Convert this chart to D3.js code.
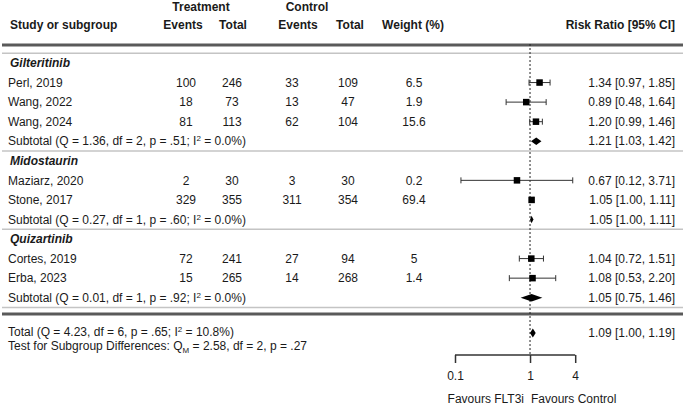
<!DOCTYPE html>
<html>
<head>
<meta charset="utf-8">
<script src="https://cdn.jsdelivr.net/npm/d3@7"></script>
<style>
  body { margin: 0; background: #fff; }
  svg { display: block; }
  text { font-family: "Liberation Sans", Arial, sans-serif; font-size: 12px; fill: #1a1a1a; }
</style>
</head>
<body>
<svg id="chart" width="685" height="405"></svg>
<script>
// ---------- DATA ----------
const groupNames = ["Gilteritinib", "Midostaurin", "Quizartinib"];
const studyLabels = ["Perl, 2019", "Wang, 2022", "Wang, 2024", "Maziarz, 2020", "Stone, 2017", "Cortes, 2019", "Erba, 2023"];
const studyGroup = [0, 0, 0, 1, 1, 2, 2];
const treatEvents = [100, 18, 81, 2, 329, 72, 15];
const treatTotal = [246, 73, 113, 30, 355, 241, 265];
const ctrlEvents = [33, 13, 62, 3, 311, 27, 14];
const ctrlTotal = [109, 47, 104, 30, 354, 94, 268];
const weights = ["6.5", "1.9", "15.6", "0.2", "69.4", "5", "1.4"];
const studyRR = [1.34, 0.89, 1.20, 0.67, 1.05, 1.04, 1.08];
const studyLo = [0.97, 0.48, 0.99, 0.12, 1.00, 0.72, 0.53];
const studyHi = [1.85, 1.64, 1.46, 3.71, 1.11, 1.51, 2.20];

const subQ = ["1.36", "0.27", "0.01"];
const subDf = ["2", "1", "1"];
const subP = [".51", ".60", ".92"];
const subI2 = ["0.0%", "0.0%", "0.0%"];
const subRR = [1.21, 1.05, 1.05];
const subLo = [1.03, 1.00, 0.75];
const subHi = [1.42, 1.11, 1.46];

const totalStats = ["4.23", "6", ".65", "10.8%"];
const totalRR = [1.09, 1.00, 1.19];
const subgroupTest = ["2.58", "2", ".27"];

const axisTicks = [0.1, 1, 4];
const axisTickLabels = ["0.1", "1", "4"];
const favourLabels = ["Favours FLT3i", "Favours Control"];

// ---------- LAYOUT ----------
const svg = d3.select("#chart");
const fmt = d3.format(".2f");
const ciText = (r, l, h) => `${fmt(r)} [${fmt(l)}, ${fmt(h)}]`;

const rows = [];
groupNames.forEach((gname, gi) => {
  rows.push({ type: "group", gi });
  studyLabels.forEach((s, si) => { if (studyGroup[si] === gi) rows.push({ type: "study", si }); });
  rows.push({ type: "sub", gi });
});
const yRow = d3.scaleLinear().domain([0, rows.length - 1]).range([63, 297.7]);
const rowStep = yRow(1) - yRow(0);

const x = d3.scaleLog().domain([0.1, 4]).range([455, 575.2]);

const col = { te: 186, tt: 232, ce: 292, ct: 348, w: 414, ci: 675, label: 8 };

// ---------- HEADER ----------
const hdr = svg.append("g").style("font-weight", "bold");
hdr.append("text").attr("x", 201).attr("y", 7).attr("dy", "0.35em").attr("text-anchor", "middle").text("Treatment");
hdr.append("text").attr("x", 307).attr("y", 7).attr("dy", "0.35em").attr("text-anchor", "middle").text("Control");
hdr.append("text").attr("x", 10).attr("y", 25).attr("dy", "0.35em").text("Study or subgroup");
[["Events", 183], ["Total", 233], ["Events", 298], ["Total", 350], ["Weight (%)", 413]].forEach(([t, cx]) => {
  hdr.append("text").attr("x", cx).attr("y", 25).attr("dy", "0.35em").attr("text-anchor", "middle").text(t);
});
hdr.append("text").attr("x", col.ci).attr("y", 25).attr("dy", "0.35em").attr("text-anchor", "end").text("Risk Ratio [95% CI]");

[45, 314].forEach(yy => {
  svg.append("line").attr("x1", 2).attr("x2", 683).attr("y1", yy).attr("y2", yy)
    .attr("stroke", "#5a5a5a").attr("stroke-width", 3);
});

rows.forEach((r, i) => {
  if (r.type === "group") {
    const yy = yRow(i) - rowStep / 2;
    svg.append("line").attr("x1", 2).attr("x2", 683).attr("y1", yy).attr("y2", yy).attr("stroke", "#c4c4c4").attr("stroke-width", 1.5);
  }
});
{
  const yy = yRow(rows.length - 1) + rowStep / 2;
  svg.append("line").attr("x1", 2).attr("x2", 683).attr("y1", yy).attr("y2", yy).attr("stroke", "#c4c4c4").attr("stroke-width", 1.5);
}

const axisY = 355;
svg.append("line").attr("x1", x(1)).attr("x2", x(1)).attr("y1", 44).attr("y2", axisY)
  .attr("stroke", "#222").attr("stroke-width", 1).attr("stroke-dasharray", "2,2");

// ---------- ROWS ----------
const g = svg.append("g");
function addSup(textSel, before, sup, after) {
  textSel.append("tspan").text(before);
  textSel.append("tspan").attr("dy", -4).style("font-size", "8px").text(sup);
  textSel.append("tspan").attr("dy", 4).text(after);
}
function drawDiamond(est, lo, hi, yy, h) {
  const pts = [[x(lo), yy], [x(est), yy - h], [x(hi), yy], [x(est), yy + h]];
  g.append("path").attr("d", d3.line()(pts) + "Z").attr("fill", "#000");
}

rows.forEach((r, i) => {
  const yy = yRow(i);
  if (r.type === "group") {
    g.append("text").attr("x", 10).attr("y", yy).attr("dy", "0.35em")
      .style("font-weight", "bold").style("font-style", "italic").text(groupNames[r.gi]);
  } else if (r.type === "study") {
    const s = r.si;
    g.append("text").attr("x", col.label).attr("y", yy).attr("dy", "0.35em").text(studyLabels[s]);
    [[treatEvents[s], col.te], [treatTotal[s], col.tt], [ctrlEvents[s], col.ce], [ctrlTotal[s], col.ct], [weights[s], col.w]]
      .forEach(([v, cx]) => g.append("text").attr("x", cx).attr("y", yy).attr("dy", "0.35em").attr("text-anchor", "middle").text(v));
    g.append("text").attr("x", col.ci).attr("y", yy).attr("dy", "0.35em").attr("text-anchor", "end")
      .text(ciText(studyRR[s], studyLo[s], studyHi[s]));
    g.append("line").attr("x1", x(studyLo[s])).attr("x2", x(studyHi[s])).attr("y1", yy).attr("y2", yy).attr("stroke", "#333").attr("stroke-width", 1);
    [studyLo[s], studyHi[s]].forEach(v => g.append("line").attr("x1", x(v)).attr("x2", x(v)).attr("y1", yy - 3).attr("y2", yy + 3).attr("stroke", "#333").attr("stroke-width", 1));
    const sz = 6.5;
    g.append("rect").attr("x", x(studyRR[s]) - sz / 2).attr("y", yy - sz / 2).attr("width", sz).attr("height", sz).attr("fill", "#000");
  } else {
    const gi = r.gi;
    const t = g.append("text").attr("x", col.label).attr("y", yy).attr("dy", "0.35em");
    addSup(t, `Subtotal (Q = ${subQ[gi]}, df = ${subDf[gi]}, p = ${subP[gi]}; I`, "2", ` = ${subI2[gi]})`);
    g.append("text").attr("x", col.ci).attr("y", yy).attr("dy", "0.35em").attr("text-anchor", "end")
      .text(ciText(subRR[gi], subLo[gi], subHi[gi]));
    drawDiamond(subRR[gi], subLo[gi], subHi[gi], yy, 3.8);
  }
});

// ---------- TOTAL ----------
const totY = 332;
{
  const t = g.append("text").attr("x", col.label).attr("y", totY).attr("dy", "0.35em");
  addSup(t, `Total (Q = ${totalStats[0]}, df = ${totalStats[1]}, p = ${totalStats[2]}; I`, "2", ` = ${totalStats[3]})`);
  const t2 = g.append("text").attr("x", col.label).attr("y", totY + 14).attr("dy", "0.35em");
  t2.append("tspan").text("Test for Subgroup Differences: Q");
  t2.append("tspan").attr("dy", 3).style("font-size", "8px").text("M");
  t2.append("tspan").attr("dy", -3).text(` = ${subgroupTest[0]}, df = ${subgroupTest[1]}, p = ${subgroupTest[2]}`);
  g.append("text").attr("x", col.ci).attr("y", 333).attr("dy", "0.35em").attr("text-anchor", "end")
    .text(ciText(totalRR[0], totalRR[1], totalRR[2]));
  drawDiamond(totalRR[0], totalRR[1], totalRR[2], 333, 4.5);
}

// ---------- AXIS ----------
const axis = d3.axisBottom(x).tickValues(axisTicks).tickFormat((d, i) => axisTickLabels[i]).tickSize(8).tickPadding(8);
const ax = svg.append("g").attr("transform", `translate(0,${axisY})`).call(axis);
ax.select(".domain").attr("stroke", "#333").attr("stroke-width", 1.5).attr("d", `M${x(0.1)},0H${x(4)}`);
ax.selectAll(".tick line").attr("stroke", "#333").attr("stroke-width", 1.5);
ax.selectAll(".tick text").attr("fill", "#1a1a1a").style("font-size", "12px").style("font-family", "'Liberation Sans', Arial, sans-serif");

svg.append("text").attr("x", x(1) - 6).attr("y", 399).attr("dy", "0.35em").attr("text-anchor", "end").text(favourLabels[0]);
svg.append("text").attr("x", x(1) + 1).attr("y", 399).attr("dy", "0.35em").attr("text-anchor", "start").text(favourLabels[1]);
</script>
</body>
</html>
